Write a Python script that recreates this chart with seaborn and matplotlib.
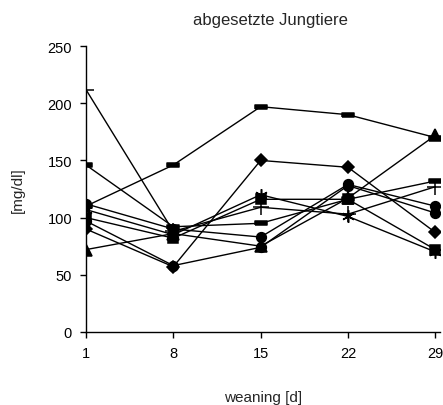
import matplotlib
matplotlib.use("Agg")
import matplotlib.pyplot as plt
import seaborn as sns
import pandas as pd

days = [1, 8, 15, 22, 29]
s_plus = [212, 88, 109, 103, 127]
s_bar_top = [110, 146, 197, 190, 170]
s_bar = [146, 92, 95, 116, 132]
s_tri = [72, 86, 75, 117, 172]
s_diamond = [90, 57, 150, 144, 87]
s_circle1 = [112, 90, 83, 129, 110]
s_circle2 = [97, 58, 74, 128, 104]
s_square = [100, 82, 116, 116, 72]
s_star = [107, 85, 120, 101, 70]

series = {
    "plus": s_plus, "bartop": s_bar_top, "bar": s_bar, "tri": s_tri,
    "diamond": s_diamond, "circle1": s_circle1, "circle2": s_circle2,
    "square": s_square, "star": s_star,
}
rect = [(-1, -0.38), (1, -0.38), (1, 0.38), (-1, 0.38), (-1, -0.38)]
markers = {"plus": "+", "bartop": rect, "bar": rect, "tri": "^",
           "diamond": "D", "circle1": "o", "circle2": "o", "square": "s",
           "star": (6, 2, 0)}
sizes = {"plus": 11, "bartop": 9, "bar": 9, "tri": 9, "diamond": 6,
         "circle1": 7, "circle2": 7, "square": 7, "star": 9}

rows = []
for name, vals in series.items():
    for d, v in zip(days, vals):
        rows.append({"day": d, "value": v, "series": name})
df = pd.DataFrame(rows)

sns.set_style("ticks")
plt.rcParams["font.family"] = ["Liberation Sans", "DejaVu Sans"]

fig = plt.figure(figsize=(4.43, 4.06), dpi=100)
ax = fig.add_axes([0.194, 0.18, 0.80, 0.704])

for name in series:
    sub = df[df.series == name]
    sns.lineplot(data=sub, x="day", y="value", ax=ax, color="black",
                 linewidth=1.0, marker=markers[name], markersize=sizes[name],
                 markeredgecolor="black", markerfacecolor="black",
                 markeredgewidth=1.1, legend=False)

ax.set_xlim(1, 29.4)
ax.set_ylim(0, 250)
ax.set_xticks(days)
ax.set_yticks([0, 50, 100, 150, 200, 250])
ax.tick_params(axis="both", labelsize=10.5, direction="out", length=4, width=1, colors="black")
ax.tick_params(axis="y", pad=6)
ax.tick_params(axis="x", pad=6)
for sp in ["top", "right"]:
    ax.spines[sp].set_visible(False)
for sp in ["left", "bottom"]:
    ax.spines[sp].set_linewidth(1)
    ax.spines[sp].set_color("black")
ax.set_xlabel("weaning [d]", fontsize=11, labelpad=22)
ax.set_ylabel("[mg/dl]", fontsize=11, labelpad=16)
ax.set_title("abgesetzte Jungtiere", fontsize=12, pad=16, x=0.52)

fig.savefig("out.png", dpi=100)
